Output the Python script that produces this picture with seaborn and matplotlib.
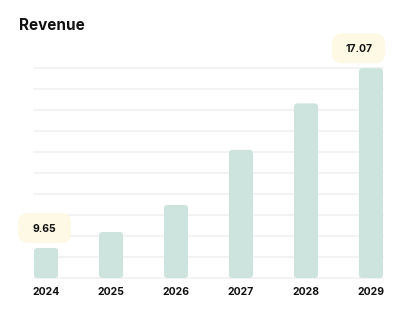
import matplotlib
matplotlib.use('Agg')
import matplotlib.pyplot as plt
from matplotlib.patches import FancyBboxPatch
from matplotlib.transforms import IdentityTransform
import seaborn as sns
import pandas as pd
import numpy as np

years = ['2024', '2025', '2026', '2027', '2028', '2029']
revenue = [9.65, 10.31, 11.43, 13.70, 15.62, 17.07]
highlight = ['2024', '2029']
title = 'Revenue'

BAR = '#CCE4DD'
GRID = '#F2F2F2'
BOX = '#FDF9E5'
TEXT = '#111111'

sns.set_theme(style='white')
plt.rcParams['font.family'] = ['Inter', 'DejaVu Sans']

W, H = 403, 331
fig = plt.figure(figsize=(W / 100, H / 100), dpi=100, facecolor='white')
ax = fig.add_axes([34 / W, 1 - 278 / H, (383 - 34) / W, (278 - 68.3) / H])

df = pd.DataFrame({'year': years, 'revenue': revenue})
sns.barplot(data=df, x='year', y='revenue', color=BAR, width=0.37,
            saturation=1, ax=ax, edgecolor='none', errorbar=None)

ymin, ymax = 8.41, 17.07
ax.set_xlim(-0.185, 5.185)
ax.set_ylim(ymin, ymax)

for gy in np.linspace(ymin, ymax, 11):
    ax.axhline(gy, color=GRID, lw=1.3, zorder=0, clip_on=False)

px_x = (383 - 34) / 5.37
px_y = (278 - 68.3) / (ymax - ymin)
for p in list(ax.patches):
    x0, w = p.get_x(), p.get_width()
    top = p.get_y() + p.get_height()
    p.remove()
    r = 3.5 / px_x
    fb = FancyBboxPatch((x0, ymin), w, top - ymin,
                        boxstyle=f'round,pad=0,rounding_size={r}',
                        mutation_aspect=px_x / px_y,
                        fc=BAR, ec='none', zorder=2)
    ax.add_patch(fb)

ax.set_xticks(range(len(years)))
ax.set_xticklabels(years, fontsize=7.5, fontweight='bold', color=TEXT)
ax.tick_params(axis='x', length=0, pad=6.5)
ax.set_yticks([])
ax.set_xlabel('')
ax.set_ylabel('')
for s in ax.spines.values():
    s.set_visible(False)

fig.text(19 / W, 1 - 30 / H, title, fontsize=11, fontweight='bold',
         ha='left', va='baseline', color=TEXT)

for yr, val in zip(years, revenue):
    if yr not in highlight:
        continue
    i = years.index(yr)
    cx, cy = ax.transData.transform((i, val))
    bw, bh = 53, 30
    cx = min(cx - 1.5, W - 18 - bw / 2)
    by0 = cy + 5
    patch = FancyBboxPatch((cx - bw / 2, by0), bw, bh,
                           boxstyle='round,pad=0,rounding_size=10',
                           transform=IdentityTransform(),
                           fc=BOX, ec='none', zorder=5)
    fig.add_artist(patch)
    fig.text(cx / W, (by0 + bh / 2) / H, f'{val:.2f}', fontsize=7.5,
             fontweight='bold', ha='center', va='center_baseline',
             color=TEXT, zorder=6)

fig.savefig('out.png', dpi=100, facecolor='white')
